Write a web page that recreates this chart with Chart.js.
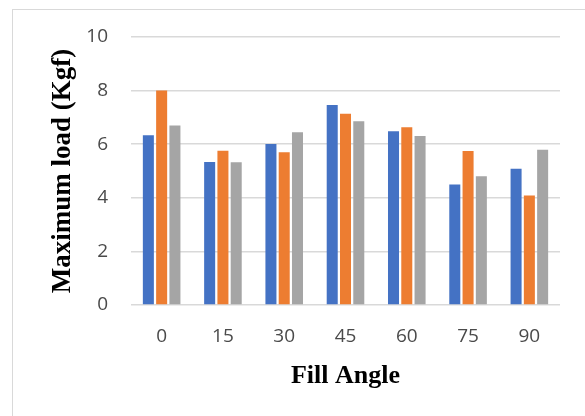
<!DOCTYPE html>
<html>
<head>
<meta charset="utf-8">
<script src="https://cdn.jsdelivr.net/npm/chart.js@4"></script>
<style>
  html, body { margin: 0; padding: 0; background: #fff; }
  #frame { position: absolute; left: 12px; top: 9px; width: 620px; height: 440px; border: 1px solid #d9d9d9; }
  #wrap { position: absolute; left: 0; top: 0; width: 585px; height: 416px; }
</style>
</head>
<body>
<div id="frame"></div>
<div id="wrap"><canvas id="myChart"></canvas></div>
<script>
  var angles = ['0', '15', '30', '45', '60', '75', '90'];
  var series1 = [6.33, 5.34, 6.01, 7.46, 6.48, 4.50, 5.08];
  var series2 = [8.00, 5.76, 5.70, 7.14, 6.63, 5.75, 4.09];
  var series3 = [6.70, 5.33, 6.45, 6.86, 6.31, 4.80, 5.79];
  var yTicks = [0, 2, 4, 6, 8, 10];

  var tickFont = { family: "'Open Sans', sans-serif", size: 19 };
  var titleFont = { family: "'Liberation Serif', 'Times New Roman', serif", size: 26, weight: 'bold' };

  var data = {
    labels: angles,
    datasets: [
      { data: series1, backgroundColor: '#4472C4' },
      { data: series2, backgroundColor: '#ED7D31' },
      { data: series3, backgroundColor: '#A5A5A5' }
    ]
  };

  // config
  var config = {
    type: 'bar',
    data,
    options: {
      responsive: true,
      maintainAspectRatio: false,
      animation: false,
      datasets: {
        bar: { barPercentage: 0.83, categoryPercentage: 0.65 }
      },
      layout: { padding: { top: 37, right: 25, bottom: 24, left: 0 } },
      plugins: {
        legend: { display: false },
        tooltip: { enabled: false }
      },
      scales: {
        x: {
          afterFit: function (scale) { scale.height = 87; },
          grid: { display: false, drawTicks: false },
          border: { display: false },
          ticks: { font: tickFont, color: '#4a4a4a', padding: 20 },
          title: { display: true, text: 'Fill Angle', font: titleFont, color: '#000', padding: 0 }
        },
        y: {
          min: 0,
          max: 10,
          afterBuildTicks: function (scale) {
            scale.ticks = yTicks.map(function (v) { return { value: v }; });
          },
          afterFit: function (scale) { scale.width = 131; },
          grid: { color: '#d9d9d9', lineWidth: 1.5, drawTicks: false },
          border: { display: false },
          ticks: { font: tickFont, color: '#4a4a4a', padding: 23 },
          title: { display: true, text: 'Maximum load (Kgf)', font: { family: titleFont.family, size: 27, weight: 'bold' }, color: '#000', padding: { top: 47, bottom: 0 } }
        }
      }
    }
  };

  // render
  var myChart = new Chart(document.getElementById('myChart'), config);
</script>
</body>
</html>
